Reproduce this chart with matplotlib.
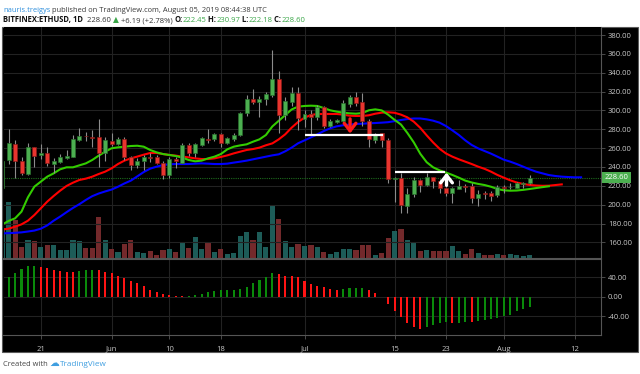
import matplotlib
matplotlib.use("Agg")
import matplotlib.pyplot as plt
import matplotlib.dates as mdates
import matplotlib.transforms as mtransforms
from matplotlib.patches import Rectangle
import pandas as pd

plt.rcParams['axes.unicode_minus'] = False

# ---------------- data ----------------
dates = pd.date_range("2019-05-15", "2019-08-05", freq="D")
opens = [217.3, 247.4, 264.0, 246.7, 232.5, 260.8, 252.7, 254.4, 243.1, 245.3,
         249.9, 250.9, 268.6, 273.2, 272.1, 271.4, 255.2, 267.9, 264.4, 270.0,
         250.9, 241.7, 246.7, 250.9, 250.9, 244.5, 231.5, 248.8, 244.5, 263.3,
         254.4, 263.3, 270.0, 269.3, 274.6, 265.1, 269.3, 273.5, 297.0, 312.5,
         308.5, 311.7, 316.3, 332.9, 295.1, 309.3, 318.8, 290.5, 296.2, 293.4,
         303.3, 283.4, 288.1, 289.1, 306.8, 314.6, 308.9, 289.1, 268.6, 275.7,
         268.6, 226.9, 227.9, 198.5, 211.3, 226.2, 220.9, 229.0, 225.1, 217.3,
         212.0, 216.6, 220.1, 220.1, 207.4, 211.9, 212.0, 210.3, 219.1, 218.3,
         218.0, 222.1, 222.45]
highs = [250.0, 279.9, 268.6, 250.9, 265.1, 261.5, 264.4, 261.5, 249.1, 253.7,
         258.0, 273.9, 281.0, 277.4, 279.2, 290.5, 272.1, 276.4, 272.1, 271.4,
         251.6, 249.1, 252.7, 254.4, 252.7, 246.7, 250.9, 250.2, 265.1, 265.1,
         265.8, 272.1, 279.9, 276.4, 275.7, 272.1, 275.7, 298.7, 316.3, 322.4,
         315.3, 319.9, 364.1, 342.2, 314.6, 325.2, 325.2, 300.4, 300.4, 305.7,
         304.7, 291.2, 291.2, 311.0, 316.3, 319.9, 318.1, 290.5, 276.4, 276.4,
         270.4, 229.7, 233.2, 217.3, 229.7, 226.9, 233.9, 229.7, 226.9, 219.1,
         219.1, 226.2, 221.9, 222.6, 215.5, 214.8, 214.8, 220.9, 220.9, 223.3,
         224.4, 224.4, 230.97]
lows = [215.0, 243.1, 227.9, 231.5, 231.5, 240.3, 248.1, 241.0, 233.2, 243.8,
        248.8, 250.2, 267.9, 267.9, 261.5, 240.3, 246.7, 262.2, 263.3, 247.4,
        236.8, 238.5, 236.8, 245.6, 243.1, 226.9, 227.9, 238.5, 243.8, 251.6,
        250.2, 262.2, 265.1, 267.9, 260.8, 264.4, 267.9, 272.8, 294.1, 306.8,
        293.4, 305.7, 314.6, 276.4, 289.8, 304.7, 279.2, 282.0, 273.9, 289.8,
        281.0, 282.0, 287.0, 287.0, 304.0, 304.7, 283.4, 261.5, 265.1, 261.5,
        223.3, 203.2, 191.5, 190.8, 207.8, 213.8, 219.8, 217.3, 212.7, 209.2,
        202.1, 216.2, 213.8, 202.1, 198.6, 205.6, 204.2, 208.5, 212.0, 216.3,
        217.3, 217.3, 222.18]
closes = [246.7, 265.1, 246.7, 233.2, 261.5, 251.6, 255.2, 243.8, 246.0, 250.2,
          251.6, 269.3, 272.8, 272.5, 270.7, 255.2, 268.6, 264.4, 270.0, 250.2,
          242.1, 246.7, 250.9, 249.9, 243.8, 231.5, 248.8, 246.0, 263.3, 254.4,
          264.4, 270.4, 269.0, 274.6, 265.1, 270.4, 273.9, 297.6, 312.5, 308.9,
          312.1, 317.4, 332.9, 295.1, 310.0, 318.1, 291.6, 296.2, 293.4, 304.0,
          283.4, 289.1, 289.8, 307.5, 314.6, 308.2, 289.1, 269.3, 275.0, 268.6,
          226.9, 228.6, 199.6, 211.3, 226.2, 220.9, 229.0, 225.5, 217.3, 212.7,
          217.3, 219.8, 219.1, 207.4, 211.3, 210.9, 209.5, 219.1, 218.0, 219.1,
          222.6, 222.41, 228.60]
volume = [300, 560, 383, 107, 183, 173, 107, 133, 127, 80,
          80, 177, 173, 100, 100, 410, 183, 93, 57, 143,
          183, 57, 53, 67, 27, 80, 93, 63, 160, 100,
          210, 93, 160, 60, 93, 40, 50, 217, 265, 183,
          265, 107, 533, 392, 173, 115, 140, 118, 133, 107,
          65, 45, 58, 93, 93, 83, 133, 133, 27, 50,
          200, 267, 293, 183, 150, 67, 77, 73, 73, 73,
          117, 67, 43, 93, 50, 33, 33, 40, 33, 40,
          33, 23, 33]
macd_hist = [34, 41, 48, 57, 62, 63, 60, 58, 55, 52,
             51, 50, 52, 55, 55.5, 54, 51, 48, 43, 39,
             33, 28, 21, 14, 10, 6, 3, 1, 0.4, 0.8,
             3, 6, 10, 12, 13, 14, 14.5, 15, 19, 28,
             34, 41, 48, 46, 43, 42.5, 40, 31, 25, 22,
             19, 15, 14, 16, 17, 18, 18.5, 14, 8, -1,
             -15, -30, -41, -54, -62, -66, -62, -59, -55, -52,
             -55, -54, -52, -52.5, -50, -47, -45, -43, -40, -37,
             -30, -26, -21]

# Alligator lines (displaced into the future)
line_dates = pd.date_range("2019-05-15", "2019-08-13", freq="D")
lips = [179.0, 182.7, 185.5, 192.6, 207.8, 219.1, 224.4, 229.7, 233.2, 237.5,
        239.6, 239.6, 241.7, 243.8, 247.4, 252.0, 256.2, 259.8, 260.8, 261.5,
        262.2, 262.5, 261.5, 258.0, 255.5, 253.7, 252.7, 251.6, 249.9, 247.4,
        246.0, 246.7, 249.1, 250.9, 253.7, 258.7, 261.5, 262.9, 264.0, 266.8,
        269.3, 273.9, 283.0, 289.0, 295.0, 301.0, 304.0, 304.7, 305.0, 304.7,
        302.5, 300.1, 298.7, 297.6, 296.9, 296.5, 297.2, 300.1, 301.1, 300.0,
        295.5, 290.0, 285.0, 276.0, 266.0, 254.0, 245.0, 239.6, 236.4, 234.0,
        231.5, 228.6, 225.5, 223.5, 222.0, 220.8, 219.0, 216.6, 215.2, 214.8,
        215.0, 215.7, 216.6, 217.6, 218.6, 219.5]
teeth = [173.5, 174.5, 176.6, 179.1, 183.0, 189.0, 196.1, 203.2, 209.2, 214.8,
         219.8, 223.3, 226.2, 227.6, 229.7, 232.5, 235.0, 238.5, 243.1, 246.7,
         249.1, 251.0, 253.0, 254.8, 254.8, 253.7, 252.7, 252.0, 250.9, 250.2,
         249.1, 248.4, 248.4, 249.1, 250.6, 252.3, 254.4, 256.2, 258.0, 259.0,
         260.5, 263.0, 265.0, 269.3, 274.6, 281.7, 287.7, 292.3, 295.1, 296.2,
         296.2, 296.2, 296.2, 295.5, 294.4, 294.1, 294.1, 294.8, 296.5, 297.6,
         298.0, 297.5, 295.5, 292.6, 288.0, 281.5, 273.5, 266.0, 259.3, 254.3,
         250.9, 248.1, 245.6, 243.1, 240.3, 238.0, 235.0, 231.5, 228.6, 225.8,
         223.5, 221.9, 220.9, 220.3, 220.0, 220.1, 220.8, 221.5]
jaw = [169.5, 169.8, 170.1, 170.6, 171.5, 172.5, 174.5, 178.0, 183.0, 187.3,
       192.0, 196.5, 200.5, 205.0, 209.0, 211.8, 214.0, 216.0, 219.0, 222.5,
       225.5, 230.0, 234.6, 238.2, 240.3, 242.0, 242.8, 243.1, 243.1, 243.1,
       243.5, 243.8, 243.5, 243.1, 243.1, 243.5, 244.6, 245.6, 246.7, 248.1,
       249.5, 250.9, 252.3, 253.4, 256.6, 260.5, 265.1, 268.2, 271.4, 274.6,
       278.1, 281.0, 283.1, 284.2, 284.9, 285.6, 285.9, 286.3, 286.6, 287.0,
       287.5, 288.6, 289.8, 290.8, 291.4, 291.4, 290.5, 289.1, 287.0, 283.4,
       278.8, 273.9, 268.2, 263.3, 259.7, 256.9, 254.1, 250.9, 247.7, 245.6,
       243.1, 240.3, 237.5, 235.0, 233.2, 231.4, 230.4, 229.7, 229.3, 229.0,
       229.0]

price_ticks = [160, 180, 200, 220, 240, 260, 280, 300, 320, 340, 360, 380]
macd_ticks = [40, 0, -40]
date_ticks = ["2019-05-21", "2019-06-01", "2019-06-10", "2019-06-18", "2019-07-01",
              "2019-07-15", "2019-07-23", "2019-08-01", "2019-08-12"]
date_labels = ["21", "Jun", "10", "18", "Jul", "15", "23", "Aug", "12"]

# drawings on the chart: (start date, end date, price)
hlines_white = [("2019-07-01 02:00", "2019-07-13 05:00", 273.5),
                ("2019-07-15 02:00", "2019-07-22 22:00", 234.2)]
# arrows: (date, from price, to price, colour)
arrows = [("2019-07-08 02:00", 291.0, 275.5, "#ff1a1a"),
          ("2019-07-23 02:00", 220.5, 234.0, "#ffffff")]
last_price = 228.60

# ---------------- layout ----------------
W, H = 640, 374
fig = plt.figure(figsize=(W / 100, H / 100), dpi=100, facecolor="white")

def fx(px):
    return px / W

def fy(py):
    return 1 - py / H

bg = Rectangle((fx(2), fy(352)), fx(636), 325 / H, transform=fig.transFigure,
               facecolor="black", edgecolor="#5a5a5a", lw=0.8, zorder=-5)
fig.add_artist(bg)

L, R = 3.5, 601
ax_vol = fig.add_axes([fx(L), fy(258), fx(R - L), (258 - 27) / H], zorder=1)
ax = fig.add_axes([fx(L), fy(258), fx(R - L), (258 - 27) / H], sharex=ax_vol, zorder=2)
ax_m = fig.add_axes([fx(L), fy(334.5), fx(R - L), (334.5 - 259) / H], sharex=ax_vol, zorder=1)

x = mdates.date2num(dates)
xl = mdates.date2num(line_dates)
x0 = mdates.date2num(pd.Timestamp("2019-05-21"))
xlim = (x0 - 5.8, x0 + 87.1)

GRID = "#222222"
SPINE = "#555555"
TXT = "#c9c9c9"
FONT = ["Open Sans", "DejaVu Sans"]
UP, DN = "#4caf50", "#e8352f"
UP_E, DN_E = "#2a6e2d", "#8a1c18"
VUP, VDN = "#1d5c58", "#73292b"

tick_x = [mdates.date2num(pd.Timestamp(d)) for d in date_ticks]

# volume (underneath)
ax_vol.set_facecolor("black")
for xv in tick_x:
    ax_vol.axvline(xv, color=GRID, lw=0.8, zorder=0)
for p in price_ticks:
    pass
vcol = [VUP if c >= o else VDN for o, c in zip(opens, closes)]
ax_vol.bar(x, volume, width=0.8, color=vcol, zorder=1)
ax_vol.set_ylim(0, 560 * 231 / 56)
ax_vol.set_xlim(*xlim)
ax_vol.set_xticks([])
ax_vol.set_yticks([])
for s in ax_vol.spines.values():
    s.set_visible(False)

# price panel
ax.patch.set_visible(False)
for p in price_ticks:
    ax.axhline(p, color=GRID, lw=0.8, zorder=0)
ax.axhline(last_price, color="#1d6b1d", lw=0.8, ls=(0, (1, 1)), zorder=1)

ax.plot(xl[:len(jaw)], jaw, color="#0000ff", lw=1.5, zorder=3)
ax.plot(xl[:len(teeth)], teeth, color="#ff0000", lw=1.5, zorder=3)
ax.plot(xl[:len(lips)], lips, color="#33cc00", lw=1.5, zorder=3)

ax.vlines(x, lows, highs, color="#8c8c8c", lw=0.8, zorder=4)
for xi, o, c in zip(x, opens, closes):
    up = c >= o
    ax.bar(xi, max(abs(c - o), 0.7), bottom=min(o, c), width=0.62,
           color=UP if up else DN, edgecolor=UP_E if up else DN_E, lw=0.5, zorder=5)

for d0, d1, p in hlines_white:
    ax.plot([mdates.date2num(pd.Timestamp(d0)), mdates.date2num(pd.Timestamp(d1))], [p, p],
            color="white", lw=1.6, solid_capstyle="butt", zorder=6)
for d, p0, p1, col in arrows:
    xd = mdates.date2num(pd.Timestamp(d))
    ax.annotate("", xy=(xd, p1), xytext=(xd, p0),
                arrowprops=dict(arrowstyle="->,head_length=0.45,head_width=0.35",
                                color=col, lw=2.4, mutation_scale=12, shrinkA=0, shrinkB=0),
                zorder=7)

ax.set_xlim(*xlim)
ax.set_ylim(380 - 223 / 0.9425, 380 + 8 / 0.9425)
ax.yaxis.tick_right()
ax.set_yticks(price_ticks)
ax.set_yticklabels([f"{p:.2f}" for p in price_ticks])
ax.tick_params(axis="y", colors=SPINE, length=3, width=0.6, pad=2, labelsize=5.5,
               labelcolor=TXT)
for lab in ax.get_yticklabels():
    lab.set_family(FONT)
ax.tick_params(axis="x", bottom=False, labelbottom=False)
for s in ["top", "left"]:
    ax.spines[s].set_visible(False)
ax.spines["right"].set_color(SPINE)
ax.spines["bottom"].set_color(SPINE)
ax.spines["bottom"].set_linewidth(0.8)
ax.spines["right"].set_linewidth(0.8)

# last price label
trans = mtransforms.blended_transform_factory(ax.transAxes, ax.transData)
ax.text(1.006, last_price, f"{last_price:.2f}", transform=trans, ha="left", va="center",
        fontsize=5.5, color="white", family=FONT, clip_on=False, zorder=10,
        bbox=dict(boxstyle="square,pad=0.3", fc="#4caf50", ec="none"))

# MACD panel
ax_m.set_facecolor("black")
for p in macd_ticks:
    ax_m.axhline(p, color=GRID, lw=0.8, zorder=0)
for xv in tick_x:
    ax_m.axvline(xv, color=GRID, lw=0.8, zorder=0)
mcol = ["#0a8a0a" if (i > 0 and v > macd_hist[i - 1]) else "#ff1414"
        for i, v in enumerate(macd_hist)]
ax_m.bar(x, macd_hist, width=0.32, color=mcol, zorder=2)
ax_m.set_xlim(*xlim)
ax_m.set_ylim(-77.7, 77.1)
ax_m.yaxis.tick_right()
ax_m.set_yticks(macd_ticks)
ax_m.set_yticklabels([f"{p:.2f}" for p in macd_ticks])
ax_m.tick_params(axis="y", colors=SPINE, length=3, width=0.6, pad=2, labelsize=5.5,
                 labelcolor=TXT)
ax_m.set_xticks(tick_x)
ax_m.set_xticklabels(date_labels)
ax_m.tick_params(axis="x", colors=SPINE, length=3, width=0.6, pad=5, labelsize=5.5,
                 labelcolor=TXT)
for lab in ax_m.get_yticklabels() + ax_m.get_xticklabels():
    lab.set_family(FONT)
ax_m.spines["top"].set_color(SPINE)
ax_m.spines["right"].set_color(SPINE)
ax_m.spines["bottom"].set_color(SPINE)
ax_m.spines["left"].set_visible(False)
for s in ["top", "right", "bottom"]:
    ax_m.spines[s].set_linewidth(0.8)

# ---------------- header / footer text ----------------
renderer = fig.canvas.get_renderer()

def segments(segs, x0_px, x1_px, y_px):
    texts = []
    for s, col, wt in segs:
        t = fig.text(0, 0, s, color=col, fontweight=wt, fontsize=10, family=FONT,
                     ha="left", va="baseline")
        texts.append(t)
    total = sum(t.get_window_extent(renderer).width for t in texts)
    size = 10 * (x1_px - x0_px) / total
    xp = x0_px
    for t in texts:
        t.set_fontsize(size)
        t.set_position((fx(xp), fy(y_px)))
        xp += t.get_window_extent(renderer).width

GREEN_T = "#3aa648"
segments([("nauris.treigys", "#2f8fdc", "normal"),
          (" published on TradingView.com, August 05, 2019 08:44:38 UTC", "#3a3a3a", "normal")],
         3, 266, 11.5)
segments([("BITFINEX:ETHUSD, 1D", "#111111", "bold"),
          ("  228.60 ", "#333333", "normal"),
          ("\u25B2", GREEN_T, "normal"),
          (" +6.19 (+2.78%) ", "#333333", "normal"),
          ("O:", "#111111", "bold"), ("222.45", GREEN_T, "normal"),
          (" H:", "#111111", "bold"), ("230.97", GREEN_T, "normal"),
          (" L:", "#111111", "bold"), ("222.18", GREEN_T, "normal"),
          (" C:", "#111111", "bold"), ("228.60", GREEN_T, "normal")],
         3, 304, 22)
segments([("Created with", "#444444", "normal")], 3, 48, 366)
fig.text(fx(49), fy(366), "\u2601", color="#3f9ee0", fontsize=7, family=["DejaVu Sans"],
         ha="left", va="baseline")
segments([("TradingView", "#3f9ee0", "normal")], 60, 107, 366)

fig.savefig("out.png", dpi=100, facecolor="white")
